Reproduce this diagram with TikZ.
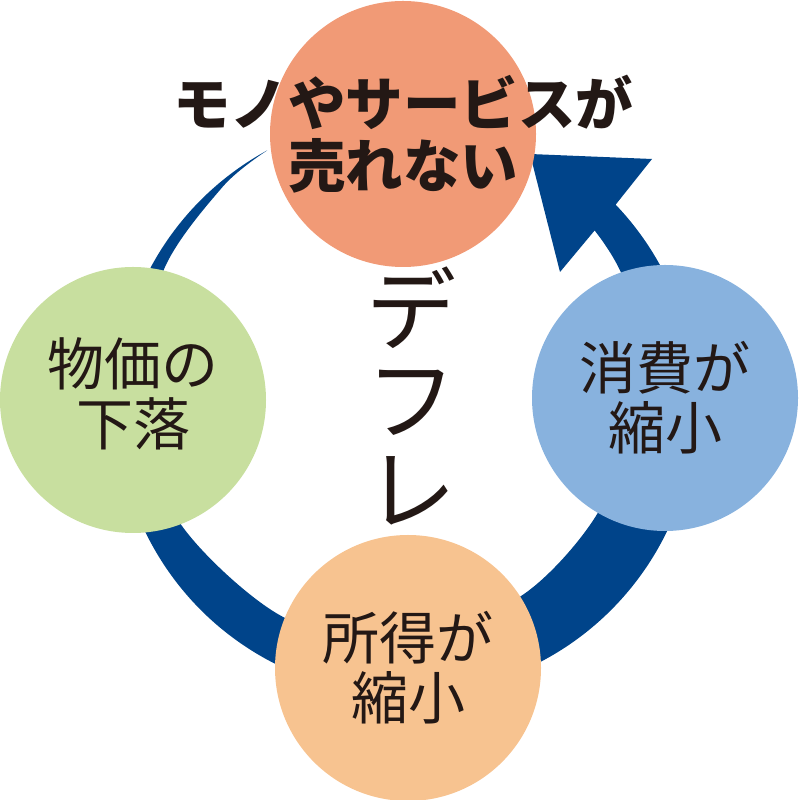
\documentclass[tikz,border=0pt]{standalone}
\usepackage{fontspec}
\newfontfamily\jpfont{Noto Sans CJK JP}
\usetikzlibrary{positioning}
\definecolor{cRing}{HTML}{00448A}
\definecolor{cTop} {HTML}{F19A76}
\definecolor{cLft} {HTML}{C8DF9F}
\definecolor{cRgt} {HTML}{88B2DE}
\definecolor{cBtm} {HTML}{F7C390}
\definecolor{cInk} {HTML}{231815}
\tikzset{
  bub/.style ={circle,minimum size=266pt,inner sep=0pt,outer sep=0pt},
  lbl/.style ={text=cInk,align=center,inner sep=0pt,
               font=\jpfont\fontsize{57}{60}\selectfont},
  ttl/.style ={lbl,font=\jpfont\bfseries\fontsize{57.5}{62}\selectfont},
  vtxt/.style={text=cInk,align=center,inner sep=0pt,
               font=\jpfont\fontsize{90}{90}\selectfont},
}

\begin{document}
\begin{tikzpicture}[x=1pt,y=1pt]
\useasboundingbox (0,0) rectangle (798,800);

% ---- ring arrow (tapers from the top left) ------------------------------
\begin{scope}[shift={(406,395)}]
  \coordinate (hdA) at (246,246);   % outer barb
  \coordinate (hdT) at (124,251);   % tip
  \coordinate (hdB) at (154,133);   % inner barb
  \coordinate (hdN) at (189,175);   % inner notch
  \fill[cRing] (118.6:290) arc[start angle=118.6,end angle=403.7,radius=290]
    -- (hdA) -- (hdT) -- (hdB) -- (hdN)
    -- plot[smooth] coordinates {(402.8:257) (388.5:250) (360:232) (330:220)
         (301:223) (270:234) (240:245) (207.6:255) (180:265) (151.5:277)
         (130:285) (118.6:290)}
    -- cycle;
\end{scope}

% ---- circles ------------------------------------------------------------
\node[bub,fill=cTop] (top) at (403,666) {};
\node[bub,fill=cLft] (lft) at (133,400) {};
\node[bub,fill=cRgt] (rgt) at (665,402) {};
\node[bub,fill=cBtm] (btm) at (408,132) {};

% ---- texts --------------------------------------------------------------
\node[ttl] (topTxt) at (top) {モノやサービスが\\売れない};
\node[lbl,yshift=6pt] (lftTxt) at (lft) {物価の\\下落};
\node[lbl] (rgtTxt) at (rgt) {消費が\\縮小};
\node[lbl] (btmTxt) at (btm) {所得が\\縮小};
\node[vtxt] (defl) at (411,404) {デ\\フ\\レ};
\end{tikzpicture}
\end{document}
